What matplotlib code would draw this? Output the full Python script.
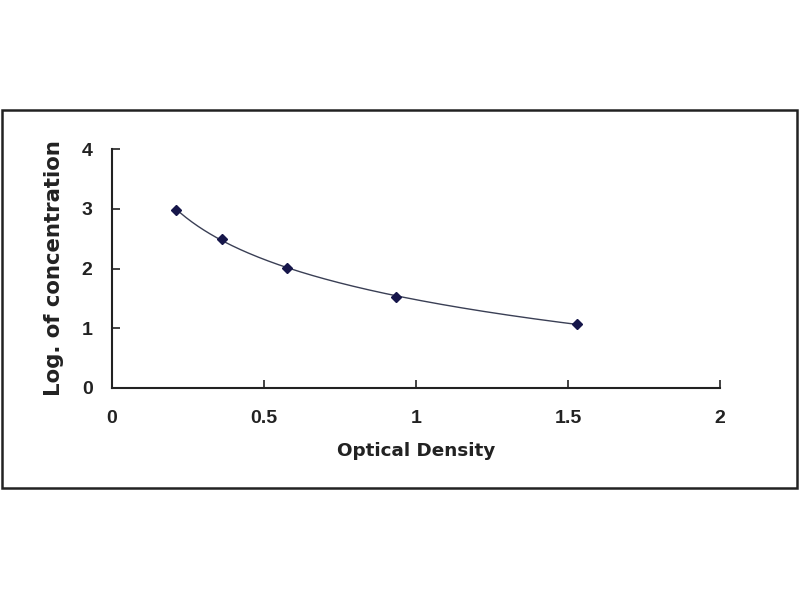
import numpy as np
import matplotlib.pyplot as plt
from matplotlib.patches import Rectangle

plt.rcParams['font.family'] = ['Liberation Sans', 'DejaVu Sans']

# standard curve points
od = [0.21, 0.362, 0.575, 0.934, 1.528]
log_conc = [2.98, 2.50, 2.01, 1.53, 1.07]

x_ticks = [0, 0.5, 1, 1.5, 2]
x_labels = ['0', '0.5', '1', '1.5', '2']
y_ticks = [0, 1, 2, 3, 4]

fig = plt.figure(figsize=(8, 6), dpi=100)
fig.patch.set_facecolor('white')

# outer frame around the chart
fig.patches.append(Rectangle((2 / 800, 1 - 488 / 600), 795 / 800, 378 / 600,
                             transform=fig.transFigure, fill=False,
                             edgecolor='#222222', linewidth=1.8))

ax = fig.add_axes([112 / 800, 1 - 388 / 600, 608 / 800, 239 / 600])

# logarithmic trendline through the points
a, b = np.polyfit(np.log(od), log_conc, 1)
xs = np.linspace(min(od), max(od), 200)
ax.plot(xs, a * np.log(xs) + b, color='#3a3f55', linewidth=1.0)
ax.plot(od, log_conc, linestyle='none', marker='D', markersize=5,
        color='#16164a')

ax.set_xlim(0, 2)
ax.set_ylim(0, 4)
ax.set_xticks(x_ticks)
ax.set_xticklabels(x_labels)
ax.set_yticks(y_ticks)
for s in ['top', 'right']:
    ax.spines[s].set_visible(False)
for s in ['left', 'bottom']:
    ax.spines[s].set_linewidth(1.5)
    ax.spines[s].set_color('#222222')
ax.tick_params(axis='both', direction='in', length=6, width=1.2,
               colors='#222222', labelsize=14)
ax.tick_params(axis='x', pad=16)
ax.tick_params(axis='y', pad=14)
for lbl in ax.get_xticklabels() + ax.get_yticklabels():
    lbl.set_fontweight('bold')

ax.set_xlabel('Optical Density', fontsize=13.2, fontweight='bold',
              color='#222222', labelpad=11, family='DejaVu Sans')
ax.set_ylabel('Log. of concentration', fontsize=15.3, fontweight='bold',
              color='#222222', labelpad=13, family='DejaVu Sans')

fig.savefig('out.png', dpi=100, facecolor='white')
